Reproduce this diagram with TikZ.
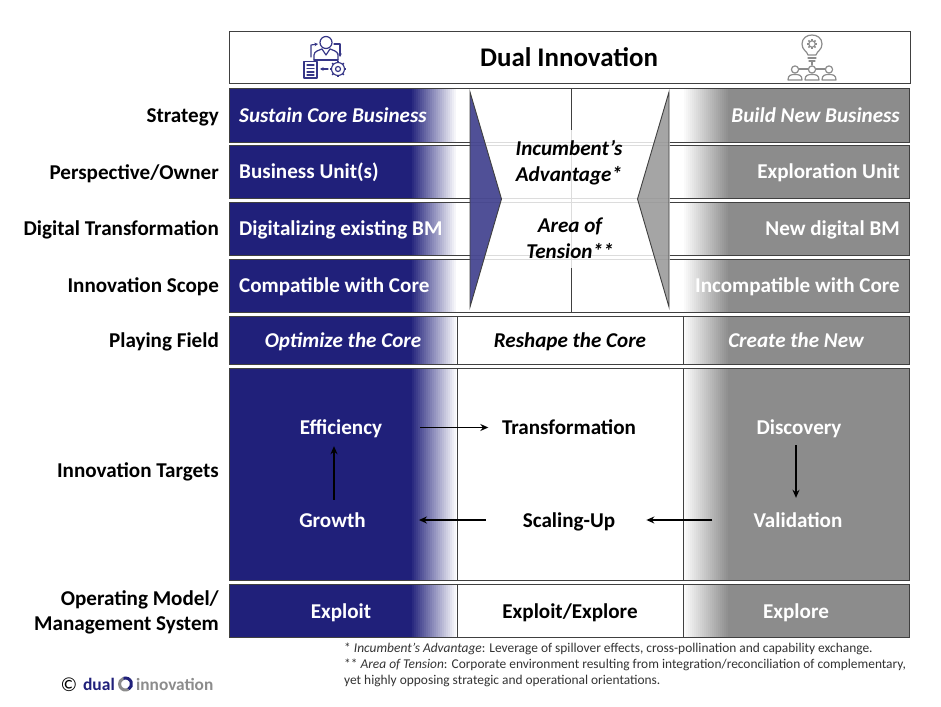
\documentclass[tikz,border=0pt]{standalone}
\usepackage{fontspec}
\setmainfont{Carlito}
\usetikzlibrary{arrows.meta,calc}
\definecolor{navy}{HTML}{20207A}
\definecolor{gry}{HTML}{8C8C8C}
\definecolor{edge}{HTML}{404040}
\newcommand{\fsz}{\fontsize{21.1}{25}\selectfont}
\tikzset{
 x=1pt,y=-1pt,
 tb/.style={text height=18pt,text depth=4.5pt,inner sep=0pt},
 lab/.style={font=\fsz\bfseries,anchor=east,align=right,text=black,tb},
 lt/.style={font=\fsz\bfseries,text=white,tb},
 bk/.style={font=\fsz\bfseries,text=black,tb},
 lit/.style={font=\fsz\bfseries\itshape,text=white,tb},
 bkit/.style={font=\fsz\bfseries\itshape,text=black,tb},
 bit/.style={font=\fontsize{21.1}{25.5}\selectfont\bfseries\itshape,text=black,inner sep=0pt,align=center},
 arr/.style={-{Stealth[length=8pt,width=7pt]},line width=1.4pt,black},
 rowedge/.style={draw=edge,line width=1pt},
 ico/.style={line width=1.2pt,line cap=round,line join=round},
 note/.style={font=\fontsize{13.4}{16}\selectfont,text=black!80,anchor=west,inner sep=0pt,text height=9pt,text depth=3pt},
}
\newcommand{\band}[2]{%
 \fill[navy] (229,#1) rectangle (412,#2);
 \foreach \i in {0,2,...,46}{%
  \pgfmathsetmacro{\p}{100-\i*100/46}%
  \fill[navy!\p!white] (410+\i,#1) rectangle (458,#2);
 }%
 \fill[gry] (683,#1) rectangle (909.5,#2);
 \foreach \i in {0,2,...,46}{%
  \pgfmathsetmacro{\p}{100-\i*100/46}%
  \fill[gry!\p!white] (683,#1) rectangle (730-\i,#2);
 }%
}
\newcommand{\gearshape}[4]{% x y r colour
 \foreach \a in {0,45,...,315}{\draw[#4,line width=1.7pt,line cap=butt] ($(#1,#2)+(\a:#3)$) -- ($(#1,#2)+(\a:#3+1.8)$);}
 \draw[#4,line width=1.1pt] (#1,#2) circle[radius=#3];
}
\begin{document}
\begin{tikzpicture}
\useasboundingbox (0,0) rectangle (941,706);
\fill[white] (0,0) rectangle (941,706);

% header
\node[draw=edge,line width=1pt,minimum width=680.5,minimum height=52,inner sep=0pt,anchor=north west] (head) at (229,31) {};
\node[font=\fontsize{26.9}{30}\selectfont\bfseries,inner sep=0pt] (title) at (569,57.5) {Dual Innovation};

% left icon
\begin{scope}[navy!90!white,ico]
 \draw (326,42.5) circle[radius=6];
 \draw (314,60) -- (314,55) .. controls (314,51) and (320,50) .. (322,49);
 \draw (338,60) -- (338,55) .. controls (338,51) and (332,50) .. (330,49);
 \draw (314,60) -- (338,60);
 \draw (322,49) -- (326,55) -- (330,49);
 \draw[-{Stealth[length=3.5pt,width=3.5pt]}] (311,57) -- (311,45) -- (318,44);
 \draw[-{Stealth[length=3.5pt,width=3.5pt]}] (334,44) -- (340,44) -- (340,57);
 \draw (304,61.5) rectangle (317,78);
 \foreach \yy in {65,68.5,72,75}{\draw (307,\yy) -- (314,\yy);}
 \draw[-{Stealth[length=3.5pt,width=3.5pt]}] (328,69) -- (320,69);
 \draw (338,69) circle[radius=2.5];
 \gearshape{338}{69}{6.5}{navy!90!white}
\end{scope}

% right icon
\begin{scope}[gry,ico]
 \draw (808,55) .. controls (807,51) and (802,50) .. (802,44) .. controls (802,32) and (822,32) .. (822,44) .. controls (822,50) and (817,51) .. (816,55) -- cycle;
 \draw (808,58) -- (816,58);
 \draw (809,61) -- (815,61);
 \draw (812,61) -- (812,65);
 \gearshape{812}{44}{3.2}{gry}
 \foreach \xx in {795,812,829}{
  \draw (\xx,69.5) circle[radius=3.6];
  \draw (\xx-7,80) .. controls (\xx-7,75) and (\xx-4,74.5) .. (\xx,74.5) .. controls (\xx+4,74.5) and (\xx+7,75) .. (\xx+7,80) -- cycle;
 }
 \draw (799,69) -- (808,69);
 \draw (816,69) -- (825,69);
\end{scope}

% four upper bands
\band{89}{142}\band{145}{198}\band{202}{255}\band{259}{312}
\foreach \t/\b in {89/142,145/198,202/255,259/312}{\draw[rowedge] (229,\t) rectangle (909.5,\b);}
\draw[edge,line width=.9pt] (571,89) -- (571,312);

% veil and centre
\fill[white,opacity=.82] (470,130) rectangle (670,268);
\filldraw[fill=navy,fill opacity=.78,draw=edge,line width=.9pt] (470,92) -- (501.5,199) -- (470,307) -- cycle;
\filldraw[fill=gry,fill opacity=.78,draw=edge,line width=.9pt] (669,92) -- (637.5,199) -- (669,307) -- cycle;
\node[bit] (adv) at (569,162.5) {Incumbent’s\\Advantage*};
\node[bit] (ten) at (570,238) {Area of\\Tension**};

% row labels
\node[lab] (l1) at (219,115.5) {Strategy};
\node[lab] (l2) at (219,172.5) {Perspective/Owner};
\node[lab] (l3) at (219,228.5) {Digital Transformation};
\node[lab] (l4) at (219,285.5) {Innovation Scope};
\node[lab] (l5) at (219,340.5) {Playing Field};
\node[lab] (l6) at (219,470.5) {Innovation Targets};
\node[font=\fontsize{21.1}{25.5}\selectfont\bfseries,anchor=east,align=right,inner sep=0pt] (l7) at (219,612.5) {Operating Model/\\Management System};

% row texts
\node[lit,anchor=west] (a1) at (239,116) {Sustain Core Business};
\node[lt,anchor=west] (a2) at (239,172) {Business Unit(s)};
\node[lt,anchor=west] (a3) at (239,229) {Digitalizing existing BM};
\node[lt,anchor=west] (a4) at (239,286) {Compatible with Core};
\node[lit,anchor=east] (b1) at (900,116) {Build New Business};
\node[lt,anchor=east] (b2) at (900,172) {Exploration Unit};
\node[lt,anchor=east] (b3) at (900,229) {New digital BM};
\node[lt,anchor=east] (b4) at (900,286) {Incompatible with Core};

% lower bands
\band{316}{364}\band{368}{580}\band{584}{637}
\foreach \t/\b in {316/364,368/580,584/637}{
 \draw[rowedge] (229,\t) rectangle (909.5,\b);
 \draw[edge,line width=.9pt] (457,\t) -- (457,\b);
 \draw[edge,line width=.9pt] (683,\t) -- (683,\b);
}

\node[lit] (p1) at (343,340.5) {Optimize the Core};
\node[bkit] (p2) at (570,340.5) {Reshape the Core};
\node[lit] (p3) at (796,340.5) {Create the New};

\node[lt] (eff) at (341,427.5) {Efficiency};
\node[bk] (trans) at (569,427.5) {Transformation};
\node[lt] (disc) at (799,427.5) {Discovery};
\node[lt] (grow) at (332.5,521) {Growth};
\node[bk] (scale) at (569,521) {Scaling-Up};
\node[lt] (valid) at (798,521) {Validation};

\draw[arr,shorten <=38pt,shorten >=13.5pt] (eff.east) -- (eff.east -| trans.west);
\draw[arr] ([xshift=1.5pt,yshift=9.75pt]grow.north) -- ([xshift=-7pt,yshift=-7.25pt]eff.south);
\draw[arr] ([xshift=-3pt,yshift=-6.25pt]disc.south) -- ([xshift=-3pt,yshift=11.75pt]disc.south |- valid.north);
\draw[arr,shorten <=41pt,shorten >=31pt] ([yshift=1pt]valid.west) -- ([yshift=1pt]valid.west -| scale.east);
\draw[arr,shorten <=37pt,shorten >=53pt] ([yshift=1pt]scale.west) -- ([yshift=1pt]scale.west -| grow.east);

\node[lt] (o1) at (341,611.5) {Exploit};
\node[bk] (o2) at (570,611.5) {Exploit/Explore};
\node[lt] (o3) at (796,611.5) {Explore};

% notes
\node[note] (n1) at (344,649) {* \textit{Incumbent’s Advantage}: Leverage of spillover effects, cross-pollination and capability exchange.};
\node[note] (n2) at (344,665) {** \textit{Area of Tension}: Corporate environment resulting from integration/reconciliation of complementary,};
\node[note] (n3) at (344,681) {yet highly opposing strategic and operational orientations.};

% logo
\node[font=\fontsize{20}{20}\selectfont,inner sep=0pt] (copy) at (69,685) {©};
\node[font=\fontsize{17.5}{18}\selectfont\bfseries,text=navy,inner sep=0pt,anchor=east] (ld) at (115,684) {dual};
\node[font=\fontsize{17.3}{18}\selectfont\bfseries,text=gry,inner sep=0pt,anchor=west] (li) at (136,684) {innovation};
\draw[gry,line width=3pt] (125.5,684) ++(60:6) arc[start angle=60,end angle=250,radius=6];
\draw[navy,line width=3pt] (125.5,684) ++(250:6) arc[start angle=250,end angle=420,radius=6];
\end{tikzpicture}
\end{document}
